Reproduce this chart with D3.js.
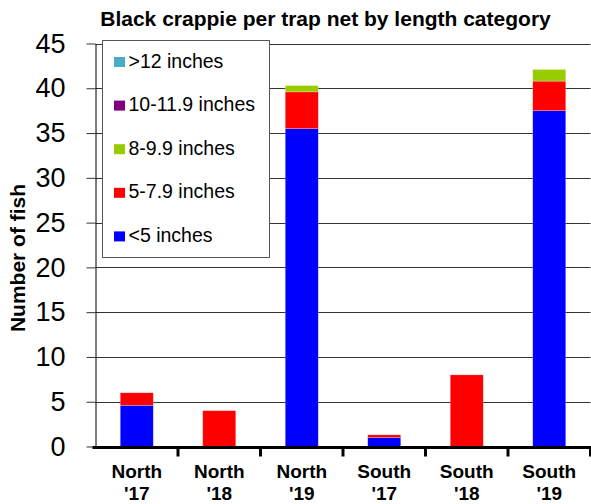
<!DOCTYPE html>
<html>
<head>
<meta charset="utf-8">
<script src="https://cdn.jsdelivr.net/npm/d3@7"></script>
<style>
  body { margin: 0; background: #fff; }
  svg { font-family: Arial, "Liberation Sans", sans-serif; }
</style>
</head>
<body>
<div id="chart"></div>
<script>
// categories and series
const categories = ["North '17", "North '18", "North '19", "South '17", "South '18", "South '19"];
const seriesNames = ["<5 inches", "5-7.9 inches", "8-9.9 inches", "10-11.9 inches", ">12 inches"];
const under5 = [4.6, 0, 35.5, 1.0, 0, 37.5];
const from5to8 = [1.4, 4.0, 4.1, 0.3, 8.0, 3.3];
const from8to10 = [0, 0, 0.7, 0, 0, 1.3];
const from10to12 = [0, 0, 0, 0, 0, 0];
const over12 = [0, 0, 0, 0, 0, 0];
const yTicks = [0, 5, 10, 15, 20, 25, 30, 35, 40, 45];
const colors = ["#0000ff", "#ff0000", "#99cc00", "#800080", "#4bacc6"];

const width = 591, height = 504;
const margin = {top: 43.5, right: 0.5, bottom: 57.5, left: 95.5};

const svg = d3.select("#chart").append("svg")
    .attr("width", width)
    .attr("height", height);

// table for the stack
const data = categories.map((c, i) => ({
    cat: c,
    "<5 inches": under5[i],
    "5-7.9 inches": from5to8[i],
    "8-9.9 inches": from8to10[i],
    "10-11.9 inches": from10to12[i],
    ">12 inches": over12[i]
}));

const x = d3.scaleBand()
    .domain(categories)
    .range([margin.left, width - margin.right])
    .padding(0);

const y = d3.scaleLinear()
    .domain([0, 45])
    .range([height - margin.bottom, margin.top]);

const color = d3.scaleOrdinal().domain(seriesNames).range(colors);

// title
svg.append("text")
    .attr("x", 325.5)
    .attr("y", 26)
    .attr("text-anchor", "middle")
    .style("font-size", "21px")
    .style("font-weight", "bold")
    .text("Black crappie per trap net by length category");

// gridlines
svg.append("g")
    .selectAll("line")
    .data(yTicks.filter(d => d > 0))
    .join("line")
    .attr("x1", margin.left)
    .attr("x2", width - margin.right)
    .attr("y1", d => Math.round(y(d)) + 0.5)
    .attr("y2", d => Math.round(y(d)) + 0.5)
    .attr("stroke", "#333")
    .attr("stroke-width", 1);

// y axis
const yAxis = svg.append("g")
    .attr("transform", `translate(${margin.left},0)`)
    .call(d3.axisLeft(y).tickValues(yTicks).tickSize(9).tickPadding(21).tickSizeOuter(0));
yAxis.select(".domain").attr("stroke", "#000");
yAxis.selectAll(".tick line").attr("stroke", "#333");
yAxis.selectAll("text")
    .style("font-size", "27px")
    .style("font-family", "Arial, 'Liberation Sans', sans-serif")
    .attr("fill", "#000");

// y label
svg.append("text")
    .attr("transform", `translate(25,258) rotate(-90)`)
    .attr("text-anchor", "middle")
    .style("font-size", "21px")
    .style("font-weight", "bold")
    .text("Number of fish");

// stacked bars
const stacked = d3.stack().keys(seriesNames)(data);
const barW = x.bandwidth() * 0.4;

svg.append("g")
    .selectAll("g")
    .data(stacked)
    .join("g")
    .attr("fill", d => color(d.key))
    .selectAll("rect")
    .data(d => d.filter(p => p[1] - p[0] > 0))
    .join("rect")
    .attr("x", d => x(d.data.cat) + (x.bandwidth() - barW) / 2)
    .attr("y", d => y(d[1]))
    .attr("height", d => y(d[0]) - y(d[1]))
    .attr("width", barW)
    .attr("stroke", "#fff")
    .attr("stroke-opacity", 0.4)
    .attr("stroke-width", 0.6);

// x axis: thick baseline with ticks at category boundaries
const x0 = y(0);
svg.append("line")
    .attr("x1", margin.left - 3)
    .attr("x2", width)
    .attr("y1", x0 + 1)
    .attr("y2", x0 + 1)
    .attr("stroke", "#000")
    .attr("stroke-width", 3);

const bounds = categories.map(c => x(c)).concat([x(categories[categories.length - 1]) + x.bandwidth()]);
svg.append("g")
    .selectAll("line")
    .data(bounds.slice(1))
    .join("line")
    .attr("x1", d => d)
    .attr("x2", d => d)
    .attr("y1", x0)
    .attr("y2", x0 + 10)
    .attr("stroke", "#000")
    .attr("stroke-width", 3);

// x labels (two lines)
const xl = svg.append("g")
    .selectAll("text")
    .data(categories)
    .join("text")
    .attr("x", d => x(d) + x.bandwidth() / 2)
    .attr("y", 477.5)
    .attr("text-anchor", "middle")
    .style("font-size", "19px")
    .style("font-weight", "bold");
xl.append("tspan")
    .attr("x", d => x(d) + x.bandwidth() / 2)
    .text(d => d.split(" ")[0]);
xl.append("tspan")
    .attr("x", d => x(d) + x.bandwidth() / 2)
    .attr("dy", 22.5)
    .text(d => d.split(" ")[1]);

// legend
const legend = svg.append("g");
legend.append("rect")
    .attr("x", 102.5)
    .attr("y", 40.5)
    .attr("width", 167)
    .attr("height", 217)
    .attr("fill", "#fff")
    .attr("stroke", "#555")
    .attr("stroke-width", 1);

const legendOrder = seriesNames.slice().reverse();
const items = legend.selectAll("g.item")
    .data(legendOrder)
    .join("g")
    .attr("class", "item")
    .attr("transform", (d, i) => `translate(114,${62 + i * 43.6})`);
items.append("rect")
    .attr("x", 0)
    .attr("y", -5)
    .attr("width", 11)
    .attr("height", 10)
    .attr("fill", d => color(d));
items.append("text")
    .attr("x", 14.5)
    .attr("y", 5.5)
    .style("font-size", "19.5px")
    .text(d => d);
</script>
</body>
</html>
